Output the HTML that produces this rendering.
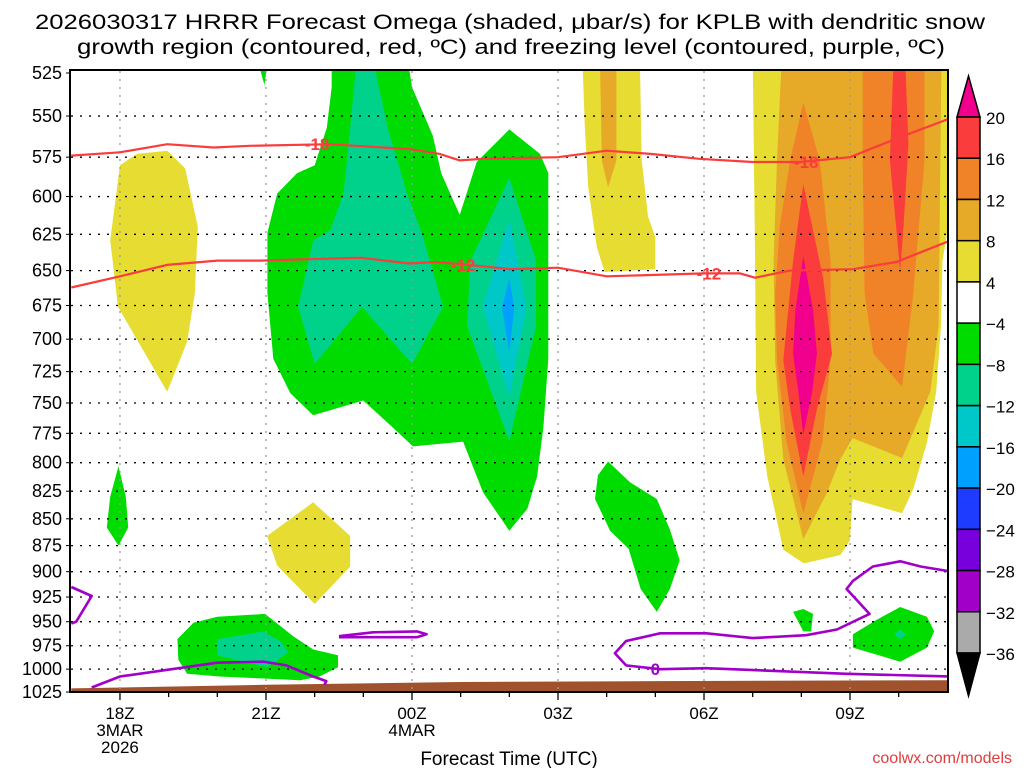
<!DOCTYPE html>
<html><head><meta charset="utf-8"><title>HRRR Omega KPLB</title>
<style>
html,body{margin:0;padding:0;background:#fff;}
svg{display:block;font-family:"Liberation Sans",sans-serif;}
</style></head>
<body>
<svg id="chart" width="1024" height="768" viewBox="0 0 1024 768" xmlns="http://www.w3.org/2000/svg">
<defs><clipPath id="plotclip"><rect x="70" y="70" width="878" height="622"/></clipPath></defs>
<text x="510" y="29" font-size="21" text-anchor="middle" textLength="950" lengthAdjust="spacingAndGlyphs">2026030317 HRRR Forecast Omega (shaded, μbar/s) for KPLB with dendritic snow</text>
<text x="511" y="54" font-size="21" text-anchor="middle" textLength="868" lengthAdjust="spacingAndGlyphs">growth region (contoured, red, ºC) and freezing level (contoured, purple, ºC)</text>
<g id="fills" clip-path="url(#plotclip)"></g>
<g id="grid"></g>
<g id="lines" clip-path="url(#plotclip)"></g>
<g id="axes"></g>
<g id="cbar"></g>
<text x="509" y="765" font-size="19" text-anchor="middle">Forecast Time (UTC)</text>
<text x="1012" y="763" font-size="16" text-anchor="end" fill="#e03c3c">coolwx.com/models</text>
</svg>
<script>
// ---- data (hour since 17Z, pressure hPa) ----
const pressureTicks = [525,550,575,600,625,650,675,700,725,750,775,800,825,850,875,900,925,950,975,1000,1025];
const timeTickHours = [1,4,7,10,13,16];
const timeTickLabels = [["18Z","3MAR","2026"],["21Z"],["00Z","4MAR"],["03Z"],["06Z"],["09Z"]];
const colorbarLevels = ["20","16","12","8","4","-4","-8","-12","-16","-20","-24","-28","-32","-36"];
const colorbarColors = ["#fa3c3c","#f08228","#e6aa28","#e6dc32","#ffffff","#00dc00","#00d28c","#00c8c8","#00a0ff","#1e3cff","#7800dc","#a000c8","#aaaaaa"];

const yellowLeft = [[1.0,580],[1.35,573],[1.97,571],[2.34,582],[2.6,620],[2.54,666],[2.38,702],[1.97,741],[0.96,676],[0.8,629]];
const yellow22Z = [[4.97,835],[5.73,866],[5.73,895],[5.0,932],[4.23,894],[4.02,866]];
const yellow04Z = [[10.5,515],[11.68,515],[11.72,577],[11.85,613],[12.0,627],[12.0,649],[10.96,651],[10.8,634],[10.62,594],[10.55,556]];
const gold04Z = [[10.86,515],[11.2,515],[11.2,577],[11.03,594],[10.9,577]];
const yellowRight = [[14.0,515],[18.2,515],[18.2,585],[17.9,643],[17.87,690],[17.77,741],[17.58,783],[17.3,823],[17.07,845],[16.05,832],[16.0,870],[15.8,884],[15.05,892],[14.63,879],[14.3,812],[14.07,741],[14.05,643]];
const goldRight = [[14.6,515],[17.88,515],[17.85,593],[17.82,690],[17.65,741],[17.07,796],[16.6,788],[16.05,779],[15.8,797],[15.53,826],[15.04,869],[14.63,797],[14.46,716],[14.43,643],[14.5,577]];
const orangeLeft = [[15.04,542],[14.77,577],[14.56,619],[14.46,666],[14.5,716],[14.7,783],[15.04,845],[15.43,783],[15.6,716],[15.6,643],[15.38,577]];
const orangeRight = [[16.26,515],[17.53,515],[17.53,577],[17.3,666],[17.07,737],[16.48,711],[16.3,666],[16.26,577]];
const redLeft = [[15.04,592],[14.83,643],[14.63,716],[14.77,755],[15.04,812],[15.32,755],[15.63,711],[15.45,656]];
const redRight = [[16.9,515],[17.13,515],[17.2,567],[17.1,619],[17.03,650],[16.82,577]];
const magentaRight = [[15.04,640],[14.88,678],[14.83,711],[14.94,741],[15.04,776],[15.22,741],[15.32,711],[15.24,678]];
const greenCenter = [[5.35,515],[6.9,515],[7.0,533],[7.43,562],[7.6,585],[7.98,612],[8.33,578],[9.0,558],[9.63,573],[9.8,585],[9.8,715],[9.7,770],[9.57,812],[9.37,841],[9.0,861],[8.46,826],[8.05,782],[7.02,786],[6.6,770],[6.0,748],[4.97,760],[4.5,742],[4.15,715],[4.03,666],[4.03,624],[4.23,598],[4.64,585],[5.0,580],[5.25,557],[5.35,533]];
const tealCenterLeft = [[5.87,515],[6.18,515],[6.5,557],[6.9,598],[7.23,627],[7.64,676],[7.0,719],[5.97,676],[5.0,719],[4.66,676],[4.97,629],[5.32,622],[5.59,598],[5.73,557]];
const tealCenterRight = [[9.0,588],[9.55,643],[9.55,690],[9.0,782],[8.13,690],[8.2,643]];
const cyanCenter = [[9.0,615],[9.35,676],[9.0,745],[8.45,676]];
const blueCenter = [[9.0,655],[9.1,677],[9.0,710],[8.85,677]];
const greenTop21Z = [[3.8,515],[4.05,515],[3.97,532]];
const greenLeft = [[0.97,803],[0.8,830],[0.73,858],[0.97,875],[1.17,858],[1.12,830]];
const greenBottom = [[2.18,968],[2.51,951],[3.0,945],[3.98,942],[4.56,965],[4.97,979],[5.48,985],[5.48,998],[5.1,1008],[4.7,1012],[3.9,1010],[3.05,1008],[2.38,1005],[2.2,990]];
const tealBottom = [[3.0,968],[3.94,960],[4.29,970],[4.46,982],[4.02,998],[3.0,985]];
const green04Z = [[11.03,799],[11.48,817],[12.03,832],[12.3,860],[12.5,889],[12.3,917],[12.03,940],[11.7,917],[11.45,878],[11.07,861],[10.76,832],[10.82,811]];
const green08Z = [[14.83,940],[15.04,937],[15.24,942],[15.2,960],[15.04,960]];
const greenRightBottom = [[16.06,963],[16.55,948],[17.03,935],[17.58,945],[17.73,960],[17.58,977],[17.03,992],[16.06,977]];
const tealRightBottom = [[17.03,958],[17.15,963],[17.03,968],[16.91,963]];

const isoMinus18 = [[0,574],[1,572],[1.97,567],[2.92,569],[3.67,568],[5.3,567],[6.95,570],[7.57,573],[7.98,577],[8.46,576],[10,575],[11,571],[11.9,573],[12.9,576],[14,578],[14.97,578],[16,575],[17,563],[18,552]];
const isoMinus12 = [[0,662],[1,654],[1.97,646],[3,643],[3.88,643],[5.93,641],[6.95,645],[7.5,644],[8.46,647],[9,649],[10,648],[11,654],[12,653],[13,652],[13.74,652],[14.05,655],[14.76,650],[16.06,649],[16.95,644],[18,630]];
const freezeBottomLeft = [[0.42,1020],[1,1008],[3,993],[3.95,992],[4.42,996],[4.97,1008],[5.24,1013],[5.2,1017]];
const freezeLeftEdge = [[0,915],[0.42,924],[0.1,950],[0,952]];
const freezeRight = [[18.1,1008],[15.93,1005],[13.05,999],[12.1,1000],[11.4,996],[11.17,983],[11.4,970],[12.1,962],[13.05,962],[14.0,967],[15.1,964],[15.73,958],[16.4,942],[15.93,917],[16.06,909],[16.47,895],[17.03,890],[17.45,895],[18.1,900]];
const freezeLoop = [[5.5,965],[6.2,961],[7.1,960],[7.3,963],[7.1,966],[6.2,966],[5.5,966]];
const surfacePressure = [[0,1021],[4,1017],[8,1014],[12,1013],[18,1012]];
const lineLabels = [["-18",5.05,567,"#fa3c3c"],["-18",15.1,578,"#fa3c3c"],["-12",8.05,646,"#fa3c3c"],["-12",13.1,652,"#fa3c3c"],["0",12.0,1000,"#a000c8"]];

// ---- axes ----
const X0=71.3, XS=48.67, Y0=73, YH=619, LP0=Math.log(525), LP1=Math.log(1025);
function xs(h){return X0+h*XS;}
function ys(p){return Y0+(Math.log(p)-LP0)/(LP1-LP0)*YH;}
const NS="http://www.w3.org/2000/svg";
function mk(tag,attrs,parent){const e=document.createElementNS(NS,tag);for(const k in attrs)e.setAttribute(k,attrs[k]);parent.appendChild(e);return e;}
function pts(arr){return arr.map(d=>xs(d[0]).toFixed(1)+","+ys(d[1]).toFixed(1)).join(" ");}

const fills=document.getElementById("fills");
const shapes=[
 [yellowLeft,"#e6dc32","yellow-region-18z"],[yellow22Z,"#e6dc32","yellow-region-22z"],
 [yellow04Z,"#e6dc32","yellow-region-04z"],[gold04Z,"#e6aa28","gold-region-04z"],
 [yellowRight,"#e6dc32","yellow-region-08z"],[goldRight,"#e6aa28","gold-region-08z"],
 [orangeLeft,"#f08228","orange-region-08z"],[orangeRight,"#f08228","orange-region-10z"],
 [redLeft,"#fa3c3c","red-region-08z"],[redRight,"#fa3c3c","red-region-10z"],[magentaRight,"#f0008c","magenta-region-08z"],
 [greenCenter,"#00dc00","green-region-center"],[tealCenterLeft,"#00d28c","teal-region-23z"],[tealCenterRight,"#00d28c","teal-region-02z"],
 [cyanCenter,"#00c8c8","cyan-region-02z"],[blueCenter,"#00a0ff","blue-region-02z"],[greenTop21Z,"#00dc00","green-region-21z-top"],
 [greenLeft,"#00dc00","green-region-18z"],[greenBottom,"#00dc00","green-region-20z-low"],[tealBottom,"#00d28c","teal-region-20z-low"],
 [green04Z,"#00dc00","green-region-04z"],[green08Z,"#00dc00","green-region-08z-low"],[greenRightBottom,"#00dc00","green-region-10z-low"],[tealRightBottom,"#00d28c","teal-region-10z-low"]
];
shapes.forEach(s=>{
 const el=mk("polygon",{points:pts(s[0]),fill:s[1]},fills);
 
 
});
const ground=mk("polygon",{points:pts(surfacePressure)+" "+xs(18.2)+","+ys(1030)+" "+xs(0)+","+ys(1030),fill:"#a0522d"},fills);



// grid
const grid=document.getElementById("grid");
pressureTicks.forEach(p=>{
 if(p===525||p===1025)return;
 const l=mk("line",{x1:71,x2:947,y1:ys(p),y2:ys(p),stroke:"#000","stroke-width":1.3,"stroke-dasharray":"2 7"},grid);
 
 
});
timeTickHours.forEach(h=>{
 const l=mk("line",{x1:xs(h),x2:xs(h),y1:71,y2:691,stroke:"#999","stroke-width":1.3,"stroke-dasharray":"2 6"},grid);
 
 
});

// contour lines
const lines=document.getElementById("lines");
[[isoMinus18,"#fa3c3c","isotherm-minus-18"],[isoMinus12,"#fa3c3c","isotherm-minus-12"]].forEach(s=>{
 const el=mk("polyline",{points:pts(s[0]),fill:"none",stroke:s[1],"stroke-width":2.2},lines);
 
 
});
[[freezeBottomLeft,"freezing-level-left"],[freezeLeftEdge,"freezing-level-edge"],[freezeRight,"freezing-level-right"],[freezeLoop,"freezing-level-loop"]].forEach(s=>{
 const el=mk("polyline",{points:pts(s[0]),fill:"none",stroke:"#a000c8","stroke-width":2.6,"stroke-linejoin":"round"},lines);
 
 
});
lineLabels.forEach(d=>{
 const t=mk("text",{x:xs(d[1]),y:ys(d[2])+6,"font-size":17,"font-weight":"bold","text-anchor":"middle",fill:d[3]},lines);
 t.textContent=d[0];
 
 
});

// axes
const axes=document.getElementById("axes");
const frame=mk("rect",{x:70,y:70,width:878,height:622,fill:"none",stroke:"#000","stroke-width":2},axes);


pressureTicks.forEach(p=>{
 const t=mk("text",{x:62,y:ys(p)+6,"font-size":18,"text-anchor":"end"},axes);
 t.textContent=String(p);
 
 
 mk("line",{x1:66,x2:70,y1:ys(p),y2:ys(p),stroke:"#000","stroke-width":1},axes);
});
for(let h=1;h<=17;h++){
 const big=timeTickHours.indexOf(h)>=0;
 mk("line",{x1:xs(h),x2:xs(h),y1:692,y2:big?700:697,stroke:"#000","stroke-width":1.3},axes);
}
timeTickHours.forEach((h,i)=>{
 timeTickLabels[i].forEach((s,j)=>{
  const t=mk("text",{x:xs(h),y:719+j*17,"font-size":17,"text-anchor":"middle"},axes);
  t.textContent=s;
  
  
 });
});

// colorbar
const cb=document.getElementById("cbar");
const CB_X=957, CB_W=23, CB_TOP=117, CB_BOT=653;
const bh=(CB_BOT-CB_TOP)/colorbarColors.length;
const topTri=mk("polygon",{points:`${CB_X},${CB_TOP} ${CB_X+CB_W},${CB_TOP} ${CB_X+CB_W/2},76`,fill:"#f0008c",stroke:"#000","stroke-width":1.5},cb);


colorbarColors.forEach((c,i)=>{
 const r=mk("rect",{x:CB_X,y:CB_TOP+i*bh,width:CB_W,height:bh,fill:c,stroke:"#000","stroke-width":1.5},cb);
 
 
});
const botTri=mk("polygon",{points:`${CB_X},${CB_BOT} ${CB_X+CB_W},${CB_BOT} ${CB_X+CB_W/2},696`,fill:"#000",stroke:"#000","stroke-width":1.5},cb);


colorbarLevels.forEach((s,i)=>{
 const t=mk("text",{x:986,y:CB_TOP+i*bh+7,"font-size":17},cb);
 t.textContent=s.replace("-","\u2212");
 
 
});
</script>
</body></html>
